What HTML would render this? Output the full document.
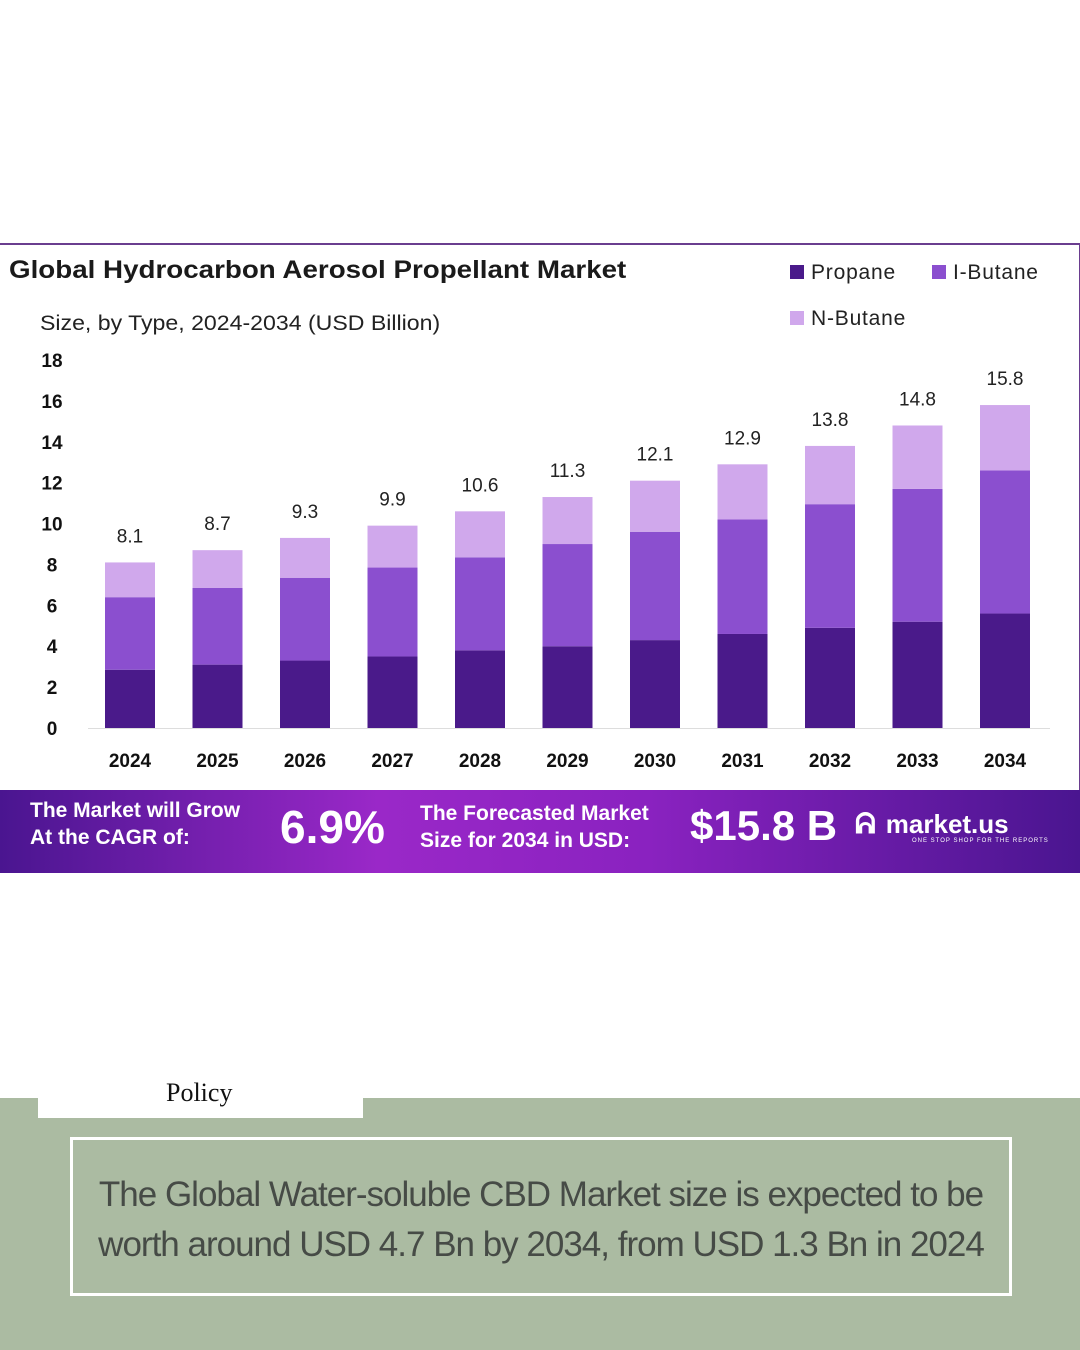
<!DOCTYPE html>
<html><head><meta charset="utf-8"><style>
body{margin:0;width:1080px;height:1350px;background:#fff;position:relative;overflow:hidden;font-family:"Liberation Sans",sans-serif}
.abs{position:absolute}
</style></head><body>
<div class="abs" style="left:-2px;top:243px;width:1079px;height:546px;border:2px solid #6a3d8f;border-bottom:none"></div>
<div class="abs" style="left:9px;top:256px;font-size:25px;font-weight:bold;color:#1a1a1a;transform:scaleX(1.11);transform-origin:left top;white-space:nowrap">Global Hydrocarbon Aerosol Propellant Market</div>
<div class="abs" style="left:40px;top:312px;font-size:21px;color:#222;transform:scaleX(1.1);transform-origin:left top;white-space:nowrap">Size, by Type, 2024-2034 (USD Billion)</div>
<div class="abs" style="left:790px;top:261px;font-size:21px;color:#222;letter-spacing:0.8px"><span style="display:inline-block;width:14px;height:14px;background:#4a1a8a;margin-right:7px"></span>Propane</div>
<div class="abs" style="left:932px;top:261px;font-size:21px;color:#222;letter-spacing:0.8px"><span style="display:inline-block;width:14px;height:14px;background:#8b4fcf;margin-right:7px"></span>I-Butane</div>
<div class="abs" style="left:790px;top:307px;font-size:21px;color:#222;letter-spacing:0.8px"><span style="display:inline-block;width:14px;height:14px;background:#d0a8ec;margin-right:7px"></span>N-Butane</div>
<svg class="abs" style="left:0;top:0" width="1080" height="790" id="chart"></svg>
<div class="abs" style="left:0;top:790px;width:1080px;height:83px;background:linear-gradient(90deg,#4a1590 0%,#9a28c8 35%,#8a22c0 60%,#4a1590 100%)"></div>
<div class="abs" style="left:30px;top:797px;font-size:21px;font-weight:bold;color:#fff;line-height:27px">The Market will Grow<br>At the CAGR of:</div>
<div class="abs" style="left:280px;top:800px;font-size:46px;font-weight:bold;color:#fff">6.9%</div>
<div class="abs" style="left:420px;top:800px;font-size:21px;font-weight:bold;color:#fff;line-height:27px">The Forecasted Market<br>Size for 2034 in USD:</div>
<div class="abs" style="left:690px;top:802px;font-size:42px;font-weight:bold;color:#fff">$15.8 B</div>
<div class="abs" style="left:855px;top:808px;font-size:28px;font-weight:bold;color:#fff">ᕱ<span style="font-size:26px;margin-left:10px">market.us</span></div>
<div class="abs" style="left:912px;top:838px;font-size:6px;color:#fff;letter-spacing:1px">ONE STOP SHOP FOR THE REPORTS</div>
<div class="abs" style="left:0;top:1098px;width:1080px;height:252px;background:#abbba2"></div>
<div class="abs" style="left:38px;top:1098px;width:325px;height:20px;background:#fff"></div>
<div class="abs" style="left:166px;top:1078px;font-size:26px;font-family:'Liberation Serif',serif;color:#111">Policy</div>
<div class="abs" style="left:70px;top:1137px;width:936px;border:3px solid #fff;text-align:center;font-size:35px;color:#464b46;letter-spacing:-1px;line-height:50px;padding-top:30px;height:123px">The Global Water-soluble CBD Market size is expected to be<br>worth around USD 4.7 Bn by 2034, from USD 1.3 Bn in 2024</div>
<script>
const years=["2024","2025","2026","2027","2028","2029","2030","2031","2032","2033","2034"];
const propane=[2.85,3.1,3.3,3.5,3.8,4.0,4.3,4.6,4.9,5.2,5.6];
const iButane=[3.55,3.75,4.05,4.35,4.55,5.0,5.3,5.6,6.05,6.5,7.0];
const nButane=[1.7,1.85,1.95,2.05,2.25,2.3,2.5,2.7,2.85,3.1,3.2];
const totals=["8.1","8.7","9.3","9.9","10.6","11.3","12.1","12.9","13.8","14.8","15.8"];
const yTicks=[0,2,4,6,8,10,12,14,16,18];
const svg=document.getElementById('chart');const NS='http://www.w3.org/2000/svg';
const y=v=>728-v*20.44;const x=i=>130+i*87.5;
function mk(t,a,txt){const e=document.createElementNS(NS,t);for(const k in a)e.setAttribute(k,a[k]);if(txt!=null)e.textContent=txt;svg.appendChild(e);return e;}
const ax=mk('line',{x1:88,x2:1050,y1:728.5,y2:728.5,stroke:'#ddd','stroke-width':1});


yTicks.forEach(t=>{const e=mk('text',{x:52,y:y(t)+7,'text-anchor':'middle','font-size':19,'font-weight':'bold',fill:'#111','font-family':'Liberation Sans'},t);

});
const cols=['#4a1a8a','#8b4fcf','#d0a8ec'];
years.forEach((yr,i)=>{let b=0;[propane,iButane,nButane].forEach((s,k)=>{const v=s[i];const r=mk('rect',{x:x(i)-25,y:y(b+v),width:50,height:y(b)-y(b+v),fill:cols[k]});

b+=v;});
const l=mk('text',{x:x(i),y:y(b)-20,'text-anchor':'middle','font-size':19,fill:'#222','font-family':'Liberation Sans'},totals[i]);


const xl=mk('text',{x:x(i),y:767,'text-anchor':'middle','font-size':19,'font-weight':'bold',fill:'#111','font-family':'Liberation Sans'},yr);

});
</script>
</body></html>
